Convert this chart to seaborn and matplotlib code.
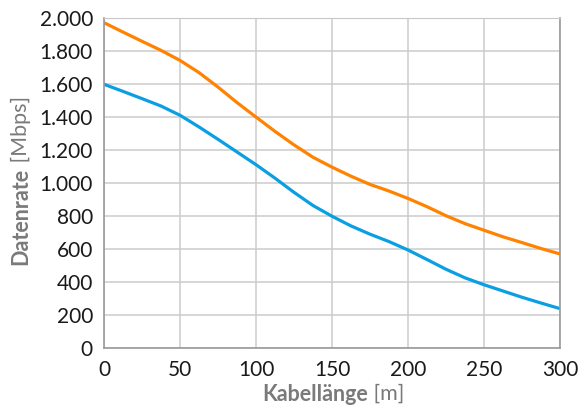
import matplotlib
matplotlib.use("Agg")
import matplotlib.pyplot as plt
import seaborn as sns
import pandas as pd
from matplotlib.ticker import FuncFormatter, MultipleLocator

kabellaenge = [0, 12.5, 25, 37.5, 50, 62.5, 75, 87.5, 100, 112.5, 125, 137.5, 150,
               162.5, 175, 187.5, 200, 212.5, 225, 237.5, 250, 262.5, 275, 287.5, 300]
rate_orange = [1972, 1915, 1859, 1804, 1743, 1669, 1581, 1487, 1399, 1312, 1230, 1155, 1095,
               1040, 990, 950, 905, 855, 800, 752, 712, 672, 637, 601, 568]
rate_blau = [1598, 1555, 1511, 1466, 1410, 1339, 1264, 1187, 1110, 1028, 942, 862, 797,
             738, 688, 643, 592, 534, 475, 423, 381, 343, 305, 270, 236]
farben = {"orange": "#ff8200", "blau": "#0a9fe3"}

df = pd.concat([
    pd.DataFrame({"x": kabellaenge, "y": rate_orange, "serie": "orange"}),
    pd.DataFrame({"x": kabellaenge, "y": rate_blau, "serie": "blau"}),
])

sns.set_style("white")
plt.rcParams["font.family"] = ["Lato", "DejaVu Sans"]

fig = plt.figure(figsize=(5.87, 4.11), dpi=100)
ax = fig.add_axes([0.1772, 0.1545, 0.7768, 0.8015])

sns.lineplot(data=df, x="x", y="y", hue="serie", palette=farben,
             linewidth=2.3, legend=False, ax=ax)

ax.set_xlim(0, 300)
ax.set_ylim(0, 2000)
ax.xaxis.set_major_locator(MultipleLocator(50))
ax.yaxis.set_major_locator(MultipleLocator(200))
ax.yaxis.set_major_formatter(FuncFormatter(lambda v, p: f"{int(v):,}".replace(",", ".")))
ax.grid(True, color="#cccccc", linewidth=1.1)
ax.set_axisbelow(True)
for s in ["left", "bottom", "right"]:
    ax.spines[s].set_color("#9a9a9a")
    ax.spines[s].set_linewidth(1.2)
ax.spines["top"].set_color("#c8c8c8")
ax.tick_params(axis="both", length=0, labelsize=15, colors="#1a1a1a")
ax.tick_params(axis="y", pad=8)
ax.tick_params(axis="x", pad=9)
ax.set_xlabel("")
ax.set_ylabel("")

grau = "#7a7a7a"
fs = 15.5
fig.canvas.draw()
r = fig.canvas.get_renderer()

# x-Achsenbeschriftung: fett + normal
t1 = fig.text(0, 0, "Kabellänge", fontsize=fs, fontweight="bold", color=grau,
              va="center", ha="left")
t2 = fig.text(0, 0, " [m]", fontsize=fs, color=grau, va="center", ha="left")
w1 = t1.get_window_extent(r).width
w2 = t2.get_window_extent(r).width
cx = 333
x0 = cx - (w1 + w2) / 2
yc = 411 - 394
t1.set_position((x0 / 587, yc / 411))
t2.set_position(((x0 + w1) / 587, yc / 411))

# y-Achsenbeschriftung
t3 = fig.text(0, 0, "Datenrate", fontsize=fs, fontweight="bold", color=grau,
              va="center", ha="left", rotation=90, rotation_mode="anchor")
t4 = fig.text(0, 0, " [Mbps]", fontsize=fs, color=grau, va="center", ha="left",
              rotation=90, rotation_mode="anchor")
h3 = t3.get_window_extent(r).height
h4 = t4.get_window_extent(r).height
cy = 411 - 180
y0 = cy - (h3 + h4) / 2
t3.set_position((21 / 587, y0 / 411))
t4.set_position((21 / 587, (y0 + h3) / 411))

fig.savefig("out.png", dpi=100)
